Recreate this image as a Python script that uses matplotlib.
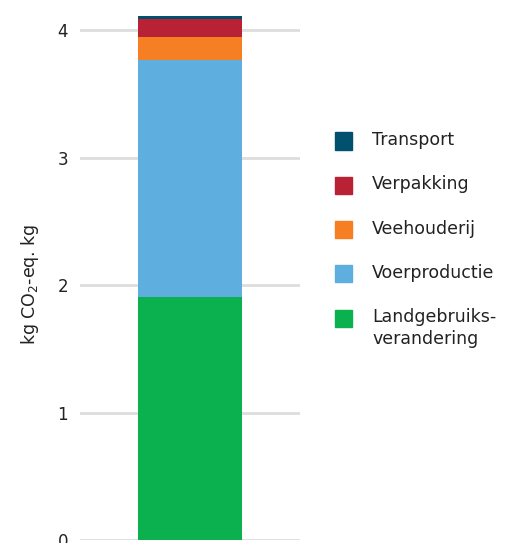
import numpy as np
import matplotlib
matplotlib.use("Agg")
import matplotlib.pyplot as plt
from matplotlib.patches import Rectangle

plt.rcParams['font.family'] = ['DejaVu Sans']
plt.rcParams['mathtext.default'] = 'regular'

# stacked components, bottom to top
labels = ['Landgebruiks-\nverandering', 'Voerproductie', 'Veehouderij', 'Verpakking', 'Transport']
values = [1.905, 1.86, 0.18, 0.14, 0.025]
colors = ['#0bb04f', '#5eafe0', '#f57f22', '#b92235', '#00506e']
yticks = [0, 1, 2, 3, 4]

W, H = 508, 543
fig = plt.figure(figsize=(W / 100, H / 100), dpi=100)
ax = fig.add_axes([0.1575, 0.0055, 0.433, 0.9674])

bottom = 0
for lab, v, c in zip(labels, values, colors):
    ax.bar(0, v, width=0.477, bottom=bottom, color=c, zorder=3)
    bottom += v

ax.set_xlim(-0.5, 0.5)
ax.set_ylim(0, 4.12)
ax.set_yticks(yticks)
ax.set_xticks([])
ax.grid(axis='y', color='#dddddd', linewidth=2, zorder=0)
for s in ax.spines.values():
    s.set_visible(False)
ax.tick_params(axis='y', length=0, pad=8.5, labelsize=12, labelcolor='#222222')
ax.set_ylabel('kg CO$_2$-eq. kg', fontsize=12.5, color='#222222', labelpad=12)
ax.yaxis.label.set_y(0.486)

# legend drawn by hand (top entry first), square aligned with first text line
for i, (lab, c) in enumerate(zip(labels[::-1], colors[::-1])):
    yc = 141 + i * 44.3
    fig.add_artist(Rectangle((335 / W, 1 - (yc + 8.5) / H), 17 / W, 17 / H,
                             transform=fig.transFigure, color=c))
    fig.text(372 / W, 1 - (yc - 10) / H, lab, fontsize=12.5, color='#222222',
             va='top', ha='left', linespacing=1.25)

fig.savefig('out.png', dpi=100)
